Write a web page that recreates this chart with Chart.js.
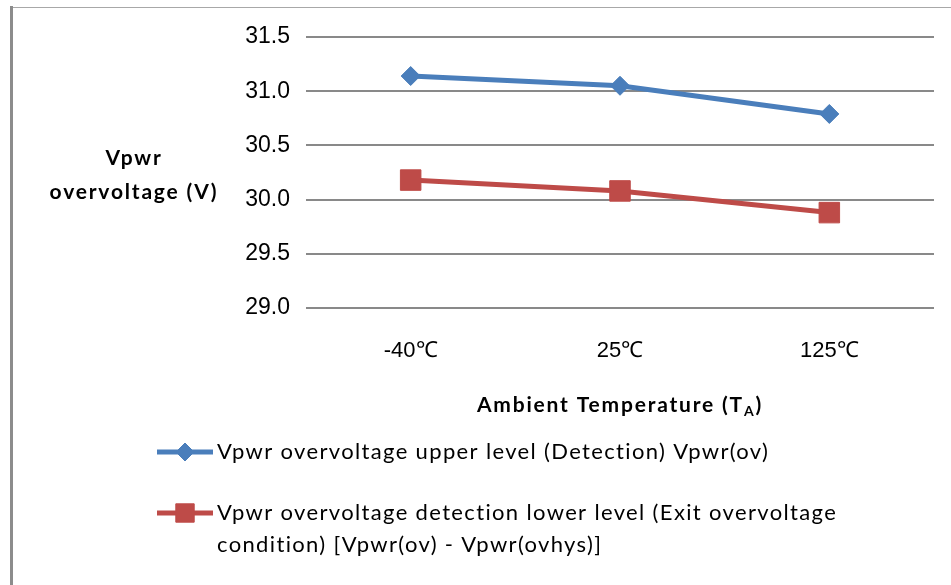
<!DOCTYPE html>
<html><head><meta charset="utf-8">
<script src="https://cdn.jsdelivr.net/npm/chart.js@4.4.1/dist/chart.umd.min.js"></script>
<style>html,body{margin:0;padding:0;background:#fff;}canvas{display:block}</style>
</head><body>
<canvas id="c" width="951" height="585"></canvas>
<script>
const categories = ['-40\u2103', '25\u2103', '125\u2103'];
const upperLevel = [31.14, 31.05, 30.79];
const lowerLevel = [30.18, 30.08, 29.88];
const seriesNames = [
  'Vpwr overvoltage upper level (Detection) Vpwr(ov)',
  'Vpwr overvoltage detection lower level (Exit overvoltage condition) [Vpwr(ov) - Vpwr(ovhys)]'
];
const yTitleLines = ['Vpwr', 'overvoltage (V)'];
const xTitleMain = 'Ambient Temperature (T';
const xTitleSub = 'A';
const xTitleEnd = ')';
const yMin = 29.0, yMax = 31.5, yStep = 0.5;

const BLUE = '#4A7EBB', RED = '#BE4B48', GRID = '#898989';

function wrapText(ctx, text, maxW) {
  const words = text.split(' ');
  const lines = []; let cur = '';
  for (const w of words) {
    const t = cur ? cur + ' ' + w : w;
    if (ctx.measureText(t).width > maxW && cur) { lines.push(cur); cur = w; } else cur = t;
  }
  if (cur) lines.push(cur);
  return lines;
}

function drawMarker(ctx, style, x, y, r, color) {
  ctx.save();
  ctx.fillStyle = color; ctx.strokeStyle = color; ctx.lineWidth = 1;
  ctx.beginPath();
  if (style === 'rectRot') {
    ctx.moveTo(x - r, y); ctx.lineTo(x, y - r); ctx.lineTo(x + r, y); ctx.lineTo(x, y + r); ctx.closePath();
  } else {
    const s = Math.SQRT1_2 * r; ctx.rect(x - s, y - s, 2 * s, 2 * s);
  }
  ctx.fill(); ctx.stroke();
  ctx.restore();
}

function setSpacing(ctx, v) { if ('letterSpacing' in ctx) ctx.letterSpacing = v; }

const decor = {
  id: 'decor',
  beforeDraw(chart) {
    const ctx = chart.ctx;
    ctx.save();
    ctx.fillStyle = '#fff'; ctx.fillRect(0, 0, chart.width, chart.height);
    ctx.strokeStyle = '#a8a8a8'; ctx.lineWidth = 1.2;
    ctx.beginPath(); ctx.moveTo(10, 7.5); ctx.lineTo(chart.width, 7.5); ctx.stroke();
    ctx.strokeStyle = '#8c8c8c'; ctx.lineWidth = 3;
    ctx.beginPath(); ctx.moveTo(11.5, 6); ctx.lineTo(11.5, chart.height); ctx.stroke();
    ctx.restore();
  },
  afterDraw(chart) {
    const ctx = chart.ctx;
    const area = chart.chartArea;
    ctx.save();
    ctx.fillStyle = '#000';
    // y title
    ctx.font = 'bold 21px Lato';
    setSpacing(ctx, '1.8px');
    ctx.textAlign = 'center'; ctx.textBaseline = 'middle';
    ctx.fillText(yTitleLines[0], 134, 158);
    ctx.fillText(yTitleLines[1], 134, 192);
    // x title with subscript
    const cx = (area.left + area.right) / 2;
    const fMain = 'bold 21px Lato', fSub = 'bold 14px Lato';
    ctx.font = fMain; const w1 = ctx.measureText(xTitleMain).width; const w3 = ctx.measureText(xTitleEnd).width;
    ctx.font = fSub; const w2 = ctx.measureText(xTitleSub).width;
    let x = cx - (w1 + w2 + w3) / 2; const ty = 405;
    ctx.textAlign = 'left';
    ctx.font = fMain; ctx.fillText(xTitleMain, x, ty); x += w1;
    ctx.font = fSub; ctx.fillText(xTitleSub, x, ty + 6); x += w2;
    ctx.font = fMain; ctx.fillText(xTitleEnd, x, ty);
    // legend
    ctx.font = '22px Lato';
    setSpacing(ctx, '1.35px');
    const rows = [452, 513];
    chart.data.datasets.forEach((ds, i) => {
      const y = rows[i];
      ctx.strokeStyle = ds.borderColor; ctx.lineWidth = ds.borderWidth;
      ctx.beginPath(); ctx.moveTo(157, y); ctx.lineTo(213, y); ctx.stroke();
      drawMarker(ctx, ds.pointStyle, 185, y, ds.pointStyle === 'rect' ? 13 : 9, ds.borderColor);
      ctx.fillStyle = '#000'; ctx.textAlign = 'left'; ctx.textBaseline = 'middle';
      const lines = wrapText(ctx, ds.label, 640);
      lines.forEach((ln, k) => ctx.fillText(ln, 217, y + k * 32));
    });
    ctx.restore();
  }
};

new Chart(document.getElementById('c'), {
  type: 'line',
  data: {
    labels: categories,
    datasets: [
      { label: seriesNames[0], data: upperLevel, borderColor: BLUE, backgroundColor: BLUE,
        borderWidth: 5, pointStyle: 'rectRot', pointRadius: 9.5, pointBorderWidth: 1, tension: 0 },
      { label: seriesNames[1], data: lowerLevel, borderColor: RED, backgroundColor: RED,
        borderWidth: 5, pointStyle: 'rect', pointRadius: 14.5, pointBorderWidth: 1, tension: 0 }
    ]
  },
  options: {
    responsive: false, animation: false, devicePixelRatio: 1,
    layout: { padding: { left: 0, top: 37, right: 17, bottom: 217 } },
    plugins: { legend: { display: false }, tooltip: { enabled: false } },
    scales: {
      x: {
        offset: true,
        grid: { display: false, drawTicks: false },
        border: { display: false },
        ticks: { color: '#000', font: { family: 'Liberation Sans', size: 22 }, padding: 30 },
        afterFit(s) { s.height = 60; }
      },
      y: {
        min: yMin, max: yMax,
        grid: { color: GRID, lineWidth: 2, drawTicks: false },
        border: { display: false },
        ticks: { stepSize: yStep, color: '#000', font: { family: 'Liberation Sans', size: 23 }, padding: 16,
                 callback: v => Number(v).toFixed(1) },
        afterFit(s) { s.width = 306; }
      }
    }
  },
  plugins: [decor]
});
</script>
</body></html>
